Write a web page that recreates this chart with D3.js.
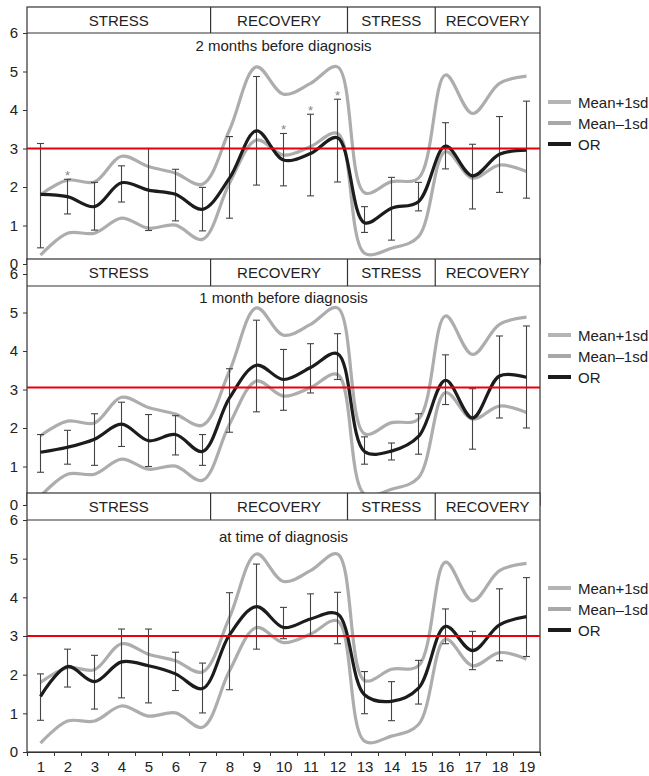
<!DOCTYPE html>
<html>
<head>
<meta charset="utf-8">
<script src="https://cdn.jsdelivr.net/npm/d3@7"></script>
<style>
  body { margin: 0; background: #fff; }
  text { font-family: "Liberation Sans", Arial, Helvetica, sans-serif; fill: #222; }
</style>
</head>
<body>
<svg width="649" height="776"></svg>
<script>
// weeks on the x axis
var weeks = [1, 2, 3, 4, 5, 6, 7, 8, 9, 10, 11, 12, 13, 14, 15, 16, 17, 18, 19];
var yTicks = [0, 1, 2, 3, 4, 5, 6];

// shared grey band (same in all three panels)
var meanPlus1sd  = [1.80, 2.18, 2.13, 2.80, 2.53, 2.36, 2.07, 3.48, 5.12, 4.41, 4.69, 5.12, 1.85, 2.14, 2.23, 4.91, 3.91, 4.69, 4.88];
var meanMinus1sd = [0.23, 0.80, 0.80, 1.19, 0.93, 1.01, 0.64, 2.10, 3.22, 2.83, 3.05, 3.39, 0.28, 0.41, 0.71, 2.92, 2.23, 2.57, 2.40];

// 2 months before diagnosis
var or2m = [1.81, 1.75, 1.49, 2.11, 1.92, 1.81, 1.42, 2.23, 3.46, 2.70, 2.87, 3.28, 1.07, 1.45, 1.62, 3.06, 2.29, 2.85, 2.96];
var hi2m = [3.13, 2.20, 2.12, 2.55, 3.00, 2.46, 1.99, 3.31, 4.87, 3.39, 3.89, 4.28, 1.49, 2.25, 2.12, 3.67, 3.11, 3.83, 4.23];
var lo2m = [0.42, 1.30, 0.88, 1.61, 0.87, 1.12, 0.86, 1.19, 2.05, 2.03, 1.77, 2.13, 0.82, 0.62, 1.38, 2.47, 1.43, 1.86, 1.71];
var star2m = [2, 10, 11, 12];

// 1 month before diagnosis
var or1m = [1.37, 1.50, 1.71, 2.10, 1.67, 1.83, 1.39, 2.78, 3.63, 3.26, 3.57, 3.93, 1.39, 1.40, 1.78, 3.24, 2.26, 3.35, 3.32];
var hi1m = [1.83, 1.94, 2.37, 2.67, 2.35, 2.32, 1.83, 3.54, 4.80, 4.04, 4.19, 4.45, 1.77, 1.61, 2.37, 3.90, 3.02, 4.39, 4.65];
var lo1m = [0.85, 1.06, 1.03, 1.52, 1.00, 1.30, 1.03, 1.89, 2.42, 2.46, 2.91, 3.26, 1.06, 1.17, 1.32, 2.61, 1.45, 2.26, 2.00];

// at time of diagnosis
var or0m = [1.44, 2.21, 1.82, 2.33, 2.23, 2.02, 1.64, 3.03, 3.76, 3.22, 3.44, 3.57, 1.48, 1.31, 1.65, 3.25, 2.62, 3.29, 3.50];
var hi0m = [2.02, 2.66, 2.50, 3.18, 3.18, 2.58, 2.30, 4.12, 4.86, 3.74, 4.09, 4.13, 2.08, 1.82, 2.37, 3.70, 3.12, 4.22, 4.51];
var lo0m = [0.82, 1.68, 1.11, 1.40, 1.27, 1.59, 1.01, 1.61, 2.66, 2.93, 3.00, 2.80, 0.99, 0.81, 1.24, 2.80, 2.13, 2.36, 2.47];

var phaseNames = ["STRESS", "RECOVERY", "STRESS", "RECOVERY"];
var phaseEdges = [0.5, 7.3, 12.37, 15.62, 19.5];
var legendNames = ["Mean+1sd", "Mean\u20131sd", "OR"];
var titles = ["2 months before diagnosis", "1 month before diagnosis", "at time of diagnosis"];

var svg = d3.select("svg");
var x = d3.scaleLinear().domain([0.5, 19.5]).range([27, 540]);

// layout of each panel (pixels)
var panels = [
  {title: titles[0], or: or2m, hi: hi2m, lo: lo2m, stars: star2m, ref: 3,
   headTop: 7, headBot: 33, y6: 33, y0: 264, titleY: 51, legY: 102},
  {title: titles[1], or: or1m, hi: hi1m, lo: lo1m, stars: [], ref: 3.05,
   headTop: 259, headBot: 286, y6: 274, y0: 505, titleY: 303, legY: 335},
  {title: titles[2], or: or0m, hi: hi0m, lo: lo0m, stars: [], ref: 3,
   headTop: 493, headBot: 520, y6: 520, y0: 752, titleY: 542, legY: 588}
];

var line = d3.line().curve(d3.curveCatmullRom.alpha(0.5));

panels.forEach(function(p, k){
  var y = d3.scaleLinear().domain([0, 6]).range([p.y0, p.y6]);
  var g = svg.append("g");

  // frame
  g.append("rect").attr("x", x(0.5)).attr("y", p.headTop)
    .attr("width", x(19.5) - x(0.5)).attr("height", p.y0 - p.headTop)
    .attr("fill", "#fff").attr("stroke", "#333").attr("stroke-width", 1.2);

  // header with phases
  g.append("line").attr("x1", x(0.5)).attr("x2", x(19.5))
    .attr("y1", p.headBot).attr("y2", p.headBot).attr("stroke", "#333").attr("stroke-width", 1.2);
  phaseNames.forEach(function(name, i){
    if (i > 0) {
      g.append("line").attr("x1", x(phaseEdges[i])).attr("x2", x(phaseEdges[i]))
        .attr("y1", p.headTop).attr("y2", p.headBot).attr("stroke", "#333").attr("stroke-width", 1.2);
    }
    g.append("text").attr("x", (x(phaseEdges[i]) + x(phaseEdges[i + 1])) / 2)
      .attr("y", (p.headTop + p.headBot) / 2 + 5.5)
      .attr("text-anchor", "middle").style("font-size", "15px").text(name);
  });

  // y axis
  var ya = g.append("g").attr("transform", "translate(" + x(0.5) + ",0)")
    .call(d3.axisLeft(y).tickValues(yTicks).tickSize(4).tickPadding(5).tickFormat(d3.format("d")));
  ya.select(".domain").remove();
  ya.selectAll("line").attr("stroke", "#333");
  ya.selectAll("text").style("font-size", "15px").attr("fill", "#222");

  g.append("text").attr("x", (x(0.5) + x(19.5)) / 2).attr("y", p.titleY)
    .attr("text-anchor", "middle").style("font-size", "15px").text(p.title);

  // grey band curves
  [meanPlus1sd, meanMinus1sd].forEach(function(s){
    g.append("path").attr("d", line(weeks.map(function(w, i){ return [x(w), y(s[i])]; })))
      .attr("fill", "none").attr("stroke", "#adadad").attr("stroke-width", 3.2);
  });

  // error bars
  weeks.forEach(function(w, i){
    var eb = g.append("g").attr("stroke", "#444").attr("stroke-width", 1.1);
    eb.append("line").attr("x1", x(w)).attr("x2", x(w)).attr("y1", y(p.hi[i])).attr("y2", y(p.lo[i]));
    eb.append("line").attr("x1", x(w) - 3.5).attr("x2", x(w) + 3.5).attr("y1", y(p.hi[i])).attr("y2", y(p.hi[i]));
    eb.append("line").attr("x1", x(w) - 3.5).attr("x2", x(w) + 3.5).attr("y1", y(p.lo[i])).attr("y2", y(p.lo[i]));
  });

  // OR curve
  g.append("path").attr("d", line(weeks.map(function(w, i){ return [x(w), y(p.or[i])]; })))
    .attr("fill", "none").attr("stroke", "#1c1c1c").attr("stroke-width", 3.2);

  // reference line
  g.append("line").attr("x1", x(0.5)).attr("x2", x(19.5))
    .attr("y1", y(p.ref)).attr("y2", y(p.ref)).attr("stroke", "#e8000b").attr("stroke-width", 2);

  // significance marks
  p.stars.forEach(function(w){
    g.append("text").attr("x", x(w)).attr("y", y(p.hi[w - 1]) + 1)
      .attr("text-anchor", "middle").style("font-size", "13px").style("fill", "#888").text("*");
  });

  // legend
  var cols = ["#b4b4b4", "#a8a8a8", "#1c1c1c"];
  legendNames.forEach(function(name, i){
    var ly = p.legY + i * 21;
    g.append("line").attr("x1", 548).attr("x2", 571).attr("y1", ly).attr("y2", ly)
      .attr("stroke", cols[i]).attr("stroke-width", 4);
    g.append("text").attr("x", 578).attr("y", ly + 5.5).style("font-size", "15px").text(name);
  });

  // bottom axis only on last panel
  if (k === panels.length - 1) {
    var halves = weeks.map(function(w){ return w - 0.5; }).concat([19.5]);
    var xb = g.append("g").attr("transform", "translate(0," + p.y0 + ")")
      .call(d3.axisBottom(x).tickValues(halves).tickSize(4).tickFormat(""));
    xb.select(".domain").attr("stroke", "#333").attr("stroke-width", 1.2);
    xb.selectAll("line").attr("stroke", "#333");
    var xl = g.append("g").attr("transform", "translate(0," + p.y0 + ")")
      .call(d3.axisBottom(x).tickValues(weeks).tickSize(0).tickPadding(9).tickFormat(d3.format("d")));
    xl.select(".domain").remove();
    xl.selectAll("text").style("font-size", "15px").attr("fill", "#222");
  }
});
</script>
</body>
</html>
